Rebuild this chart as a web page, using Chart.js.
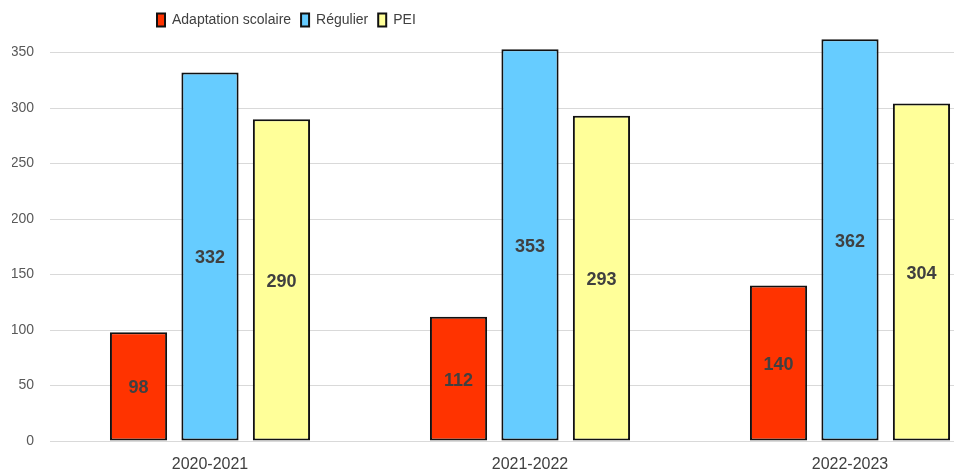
<!DOCTYPE html>
<html>
<head>
<meta charset="utf-8">
<script src="https://cdn.jsdelivr.net/npm/chart.js@4"></script>
<style>
  body { margin: 0; overflow: hidden; background: #fff; }
  #wrap { width: 1010px; height: 475px; }
</style>
</head>
<body>
<div id="wrap"><canvas id="myChart"></canvas></div>
<script>
// Données
const annees = ['2020-2021', '2021-2022', '2022-2023'];
const adaptation = [98, 112, 140];
const regulier = [332, 353, 362];
const pei = [290, 293, 304];
const yTicks = [0, 50, 100, 150, 200, 250, 300, 350];

const police = "'Liberation Sans', Arial, sans-serif";

// Valeurs au milieu des barres
const etiquettes = {
    id: 'etiquettes',
    afterDatasetsDraw(chart) {
        const ctx = chart.ctx;
        ctx.save();
        ctx.font = 'bold 18px ' + police;
        ctx.fillStyle = '#404040';
        ctx.textAlign = 'center';
        ctx.textBaseline = 'middle';
        chart.data.datasets.forEach((ds, i) => {
            chart.getDatasetMeta(i).data.forEach((bar, j) => {
                ctx.fillText(ds.data[j], bar.x, (bar.y + bar.base) / 2 + 2);
            });
        });
        ctx.restore();
    }
};

// Décale la légende vers la gauche comme sur l'image
const decalageLegende = {
    id: 'decalageLegende',
    afterLayout(chart) {
        chart.legend.left = 147;
    }
};

const ctx = document.getElementById('myChart').getContext('2d');
new Chart(ctx, {
    type: 'bar',
    data: {
        labels: annees,
        datasets: [
            { label: 'Adaptation scolaire', data: adaptation, backgroundColor: '#ff3300' },
            { label: 'Régulier', data: regulier, backgroundColor: '#66ccff' },
            { label: 'PEI', data: pei, backgroundColor: '#ffff99' }
        ]
    },
    options: {
        responsive: true,
        maintainAspectRatio: false,
        animation: false,
        layout: { padding: { left: 12, right: 0, top: 3, bottom: 2 } },
        datasets: {
            bar: {
                borderColor: '#111',
                borderWidth: 2,
                borderSkipped: false,
                categoryPercentage: 0.67,
                barPercentage: 0.8
            }
        },
        plugins: {
            legend: {
                position: 'top',
                align: 'start',
                labels: {
                    boxWidth: 8,
                    boxHeight: 13,
                    padding: 10,
                    color: '#404040',
                    font: { family: police, size: 14 }
                }
            },
            tooltip: { enabled: false }
        },
        scales: {
            x: {
                afterFit: (axis) => { axis.height = 32; },
                grid: { display: false, drawTicks: false },
                border: { display: false },
                ticks: { color: '#404040', padding: 14, font: { family: police, size: 16 } }
            },
            y: {
                min: 0,
                max: 364,
                afterBuildTicks: (axis) => {
                    axis.ticks = yTicks.map(v => ({ value: v }));
                },
                afterFit: (axis) => { axis.width = 38; },
                grid: { color: '#d9d9d9', drawTicks: false },
                border: { display: false },
                ticks: { color: '#595959', padding: 16, font: { family: police, size: 14 } }
            }
        }
    },
    plugins: [etiquettes, decalageLegende]
});
</script>
</body>
</html>
